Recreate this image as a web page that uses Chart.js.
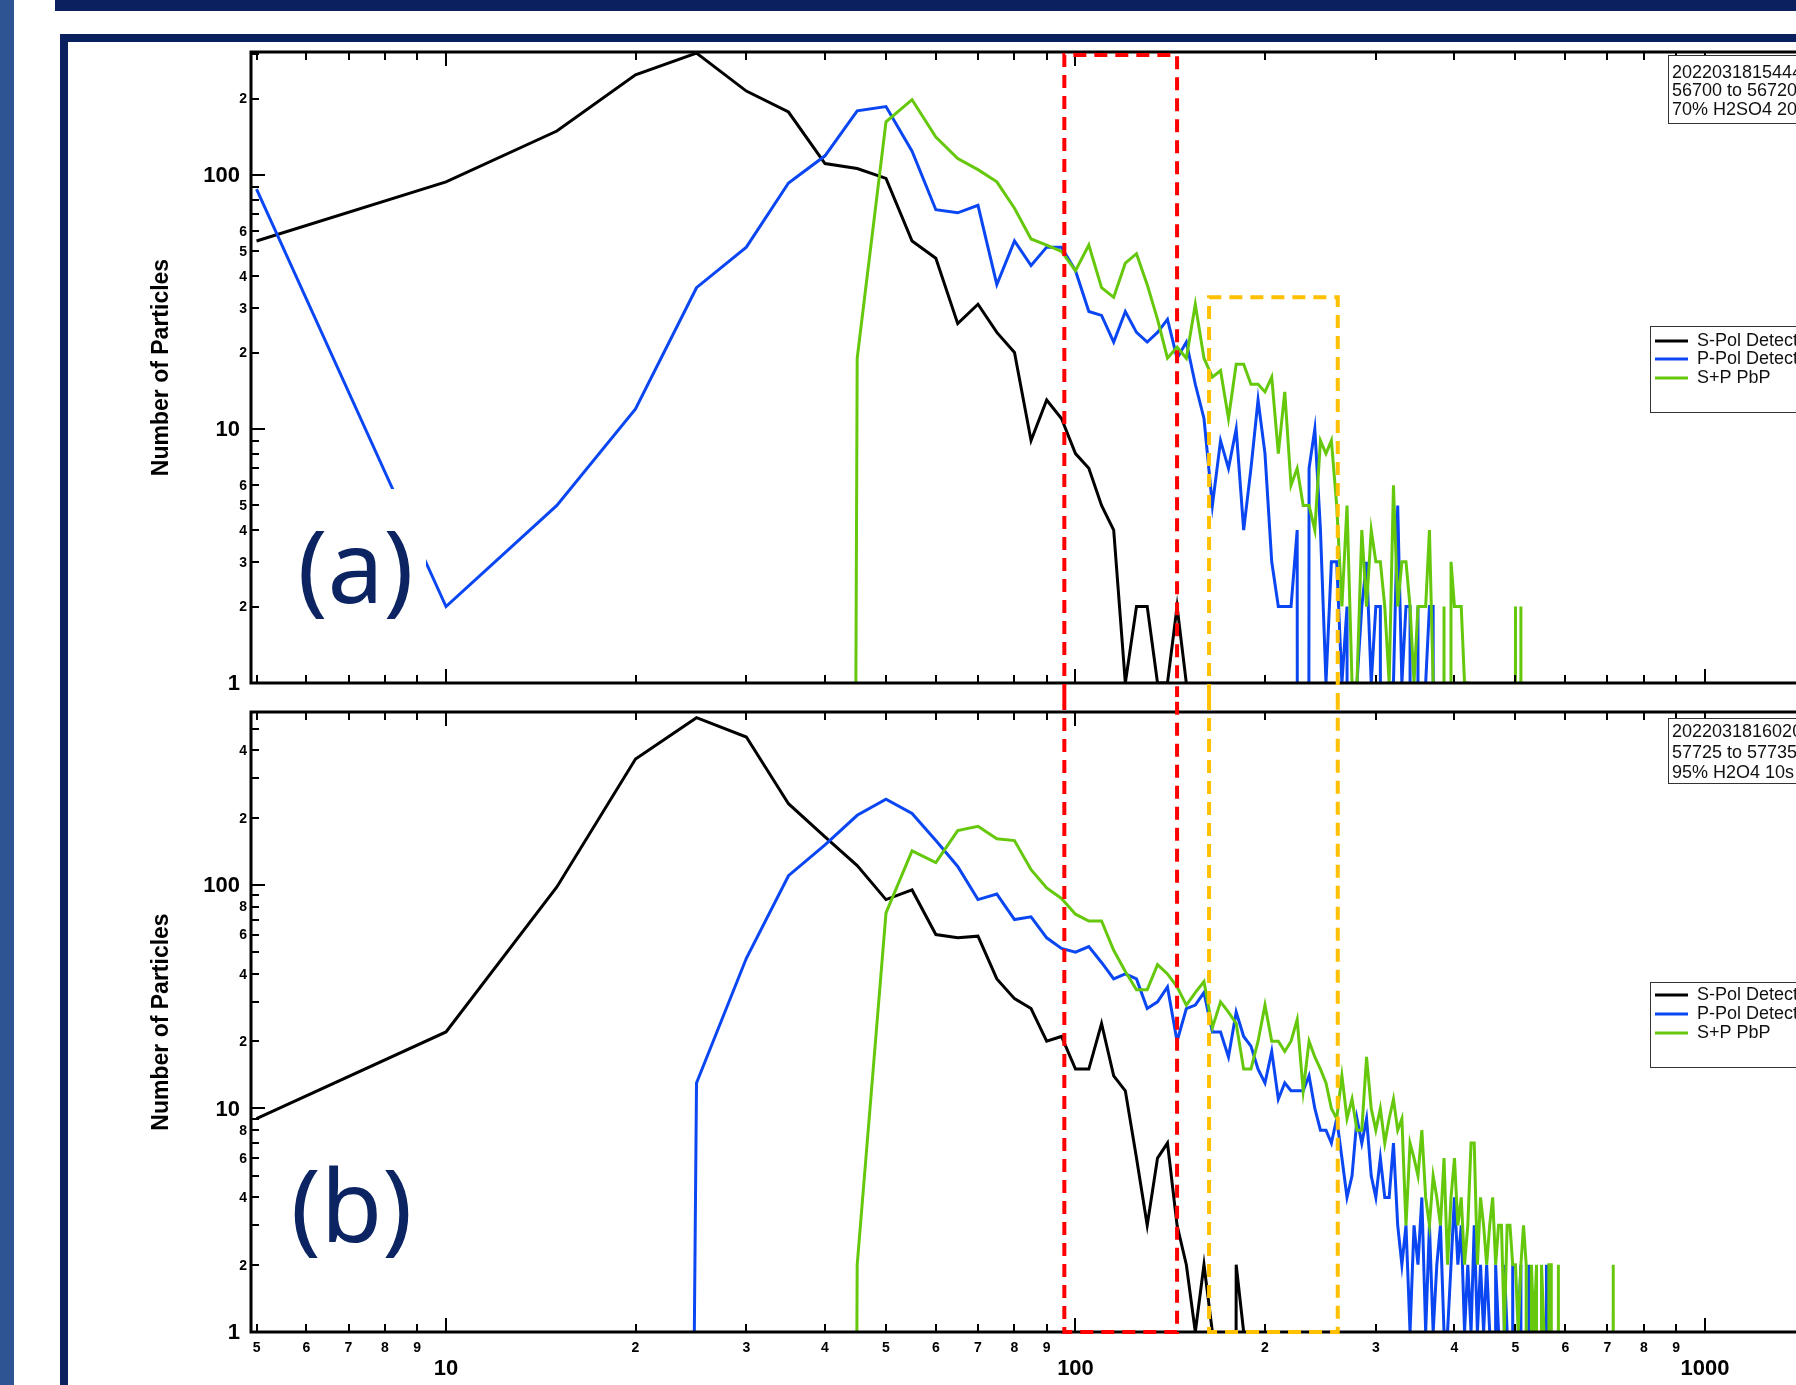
<!DOCTYPE html>
<html>
<head>
<meta charset="utf-8">
<script src="https://cdn.jsdelivr.net/npm/chart.js@4.4.0/dist/chart.umd.min.js"></script>
<style>
html,body{margin:0;padding:0;width:1796px;height:1385px;overflow:hidden;background:#fff;position:relative;}
#strip{position:absolute;left:0;top:0;width:14px;height:1385px;background:#2e5494;}
#topbar{position:absolute;left:55px;top:0;width:1741px;height:11px;background:#0b205e;}
#frame{position:absolute;left:60px;top:34px;width:2200px;height:2000px;border:8px solid #0b205e;box-sizing:border-box;}
.wrap{position:absolute;left:0;width:2100px;}
#w1{top:0;height:697px;}
#w2{top:697px;height:688px;}
canvas{display:block;}
.tag{position:absolute;background:#fff;color:#0c2462;font-family:'Noto Sans',sans-serif;font-size:100px;line-height:150px;height:150px;width:141px;text-align:center;z-index:5;}
#ta{left:285px;top:489px;}
#tb{left:281px;top:1128px;}
</style>
</head>
<body>
<div id="strip"></div>
<div id="topbar"></div>
<div id="frame"></div>
<div class="wrap" id="w1"><canvas id="c1" width="2100" height="697"></canvas></div>
<div class="wrap" id="w2"><canvas id="c2" width="2100" height="688"></canvas></div>
<div class="tag" id="ta">(a)</div>
<div class="tag" id="tb">(b)</div>
<script>
// ---------- data ----------
const sizes = [
  5,10,15,20,25,30,35,40,45,50,
  55,60,65,70,75,80,85,90,95,100,
  105,110,115,120,125,130,135,140,145,150,
  155,160,165,170,175,180,185,190,195,200,
  205,210,215,220,225,230,235,240,245,250,
  255,260,265,270,275,280,285,290,295,300,
  305,310,315,320,325,330,335,340,345,350,
  355,360,365,370,375,380,385,390,395,400,
  405,410,415,420,425,430,435,440,445,450,
  455,460,465,470,475,480,485,490,495,500,
  505,510,515,520,525,530,535,540,545,550,
  555,560,565,570,575,580,585,590,595,600,
  605,610,615,620,625,630,635,640,645,650,
  655,660,665,670,675,680,685,690,695,700,
  705,710,715,720
];

// panel (a)
const sPolTop = [
  55,94,149,248,302,214,177,111,106,97,
  55,47,26,31,24,20,9,13,11,8,
  7,5,4,1,2,2,1,1,2,1,
  0,0,0,0,0,0,0,0,0,0,
  0,0,0,0,0,0,0,0,0,0,
  0,0,0,0,0,0,0,0,0,0,
  0,0,0,0,0,0,0,0,0,0,
  0,0,0,0,0,0,0,0,0,0,
  0,0,0,0,0,0,0,0,0,0,
  0,0,0,0,0,0,0,0,0,0,
  0,0,0,0,0,0,0,0,0,0,
  0,0,0,0,0,0,0,0,0,0,
  0,0,0,0,0,0,0,0,0,0,
  0,0,0,0,0,0,0,0,0,0,
  0,0,0,0
];
const pPolTop = [
  88,2,5,12,36,52,93,119,179,186,
  124,73,71,76,37,55,44,52,52,42,
  29,28,22,29,24,22,24,27,19,22,
  15,11,5,9,7,10,4,7,13,8,
  3,2,2,2,4,0,7,10,4,1,
  3,3,1,2,0,1,2,3,1,2,
  2,0,1,1,5,1,2,2,0,2,
  0,1,2,2,0,0,0,1,0,0,
  0,0,1,0,0,0,0,0,0,0,
  0,0,0,0,0,0,0,0,0,0,
  0,0,0,0,0,0,0,0,0,0,
  0,0,0,0,0,0,0,0,0,0,
  0,0,0,0,0,0,0,0,0,0,
  0,0,0,0,0,0,0,0,0,0,
  0,0,0,0
];
const sumTop = [
  0,0,0,0,0,0,0,0,19,162,
  198,141,116,105,94,74,56,53,50,42,
  53,36,33,45,49,37,27,19,21,19,
  31,19,16,17,11,18,18,15,15,14,
  16,8,14,6,7,5,5,4,9,8,
  9,5,2,5,1,1,4,2,4,3,
  3,2,1,6,2,3,3,2,1,2,
  2,2,4,1,0,0,2,0,3,2,
  2,2,1,1,0,0,0,1,0,0,
  0,0,0,0,0,0,0,0,0,2,
  0,2,0,0,0,0,0,0,0,0,
  0,0,0,0,0,0,0,0,0,0,
  0,0,0,0,0,0,0,0,0,0,
  0,0,0,0,0,0,0,0,0,0,
  0,0,0,0
];

// panel (b)
const sPolBottom = [
  9,22,98,366,560,459,231,164,122,86,
  95,60,58,59,38,31,28,20,21,15,
  15,24,14,12,6,3,6,7,3,2,
  1,2,1,0,0,2,1,0,0,0,
  0,0,0,0,0,0,0,0,0,0,
  0,0,0,0,0,0,0,0,0,0,
  0,0,0,0,0,0,0,0,0,0,
  0,0,0,0,0,0,0,0,0,0,
  0,0,0,0,0,0,0,0,0,0,
  0,0,0,0,0,0,0,0,0,0,
  0,0,0,0,0,0,0,0,0,0,
  0,0,0,0,0,0,0,0,0,0,
  0,0,0,0,0,0,0,0,0,0,
  0,0,0,0,0,0,0,0,0,0,
  0,0,0,0
];
const pPolBottom = [
  0,0,0,0,13,47,110,151,205,242,
  209,158,121,86,91,70,72,58,52,50,
  53,45,38,40,38,28,30,35,20,28,
  29,33,22,22,17,27,21,19,15,13,
  18,11,13,12,12,12,14,10,8,8,
  7,9,6,4,5,9,7,9,5,4,
  6,4,4,7,3,2,3,1,3,2,
  4,1,3,1,2,3,1,1,2,4,
  2,3,1,2,1,3,1,2,1,2,
  1,0,2,1,0,2,1,0,2,0,
  1,2,0,0,2,0,0,1,0,0,
  0,2,0,0,0,0,0,0,0,0,
  0,0,0,0,0,0,0,0,0,0,
  0,0,0,0,0,0,0,0,0,0,
  0,0,0,0
];
const sumBottom = [
  0,0,0,0,0,0,0,0,2,75,
  142,126,175,183,161,158,117,97,87,74,
  69,69,51,41,34,34,44,40,35,29,
  33,37,23,30,27,24,15,15,20,29,
  20,20,18,20,25,12,20,17,15,13,
  10,9,14,9,11,8,8,17,10,8,
  10,7,9,11,8,9,3,7,6,5,
  8,4,3,5,4,3,6,2,4,6,
  3,4,2,3,7,7,2,4,3,2,
  3,4,2,3,3,1,3,3,2,2,
  1,2,3,2,0,2,1,2,0,2,
  1,0,2,2,0,0,2,0,0,1,
  0,0,0,0,0,0,0,0,0,0,
  0,0,0,0,0,0,0,0,0,0,
  0,0,2,0
];

const seriesNames = ['S-Pol Detector', 'P-Pol Detector', 'S+P PbP'];
const seriesColors = ['#000000', '#0a46f2', '#66c80c'];

const xTicks = [5,6,7,8,9,10,20,30,40,50,60,70,80,90,100,200,300,400,500,600,700,800,900,1000,2000,3000];
const xMajor = [10,100,1000];
const xLabelled = [5,6,7,8,9,10,20,30,40,50,60,70,80,90,100,200,300,400,500,600,700,800,900,1000];

const yTicksTop = [1,2,3,4,5,6,7,8,9,10,20,30,40,50,60,70,80,90,100,200,300];
const yLabelsTop = [1,2,3,4,5,6,10,20,30,40,50,60,100,200];
const yTicksBottom = [1,2,3,4,5,6,7,8,9,10,20,30,40,50,60,70,80,90,100,200,300,400,500];
const yLabelsBottom = [1,2,4,6,8,10,20,40,60,80,100,200,400];
const yMajor = [1,10,100];

const infoTop = ['20220318154444', '56700 to 56720', '70% H2SO4 20s'];
const infoBottom = ['20220318160200', '57725 to 57735', '95% H2O4 10s'];

// dashed highlight boxes (particle size ranges); "top" = upper value in panel (a), null = frame
const highlightBoxes = [
  {from: 96, to: 145, top: null, color: '#ff0000'},
  {from: 163, to: 261, top: 33, color: '#ffc000'}
];

// ---------- drawing ----------
const FONT = "'Liberation Sans', Arial, sans-serif";
const ZERO_ON_LOG = 1e-30; // a zero count drops straight down on a log axis

function tickText(v, major) {
  if (major) return String(v);
  const p = Math.pow(10, Math.floor(Math.log10(v)));
  return String(Math.round(v / p));
}

const decoPlugin = {
  id: 'deco',
  afterDraw(chart, args, o) {
    const ctx = chart.ctx, a = chart.chartArea, xs = chart.scales.x, ys = chart.scales.y;
    ctx.save();
    ctx.setLineDash([]);
    // tick marks (inward)
    ctx.strokeStyle = '#000';
    ctx.lineWidth = 2;
    ctx.beginPath();
    xTicks.forEach(v => {
      const px = Math.round(xs.getPixelForValue(v));
      if (px < a.left + 2 || px > a.right) return;
      const len = xMajor.includes(v) ? 14 : 8;
      ctx.moveTo(px, a.bottom); ctx.lineTo(px, a.bottom - len);
      ctx.moveTo(px, a.top); ctx.lineTo(px, a.top + len);
    });
    o.yTicks.forEach(v => {
      const py = Math.round(ys.getPixelForValue(v));
      if (py < a.top + 2 || py > a.bottom + 0.5) return;
      const len = yMajor.includes(v) ? 14 : 8;
      ctx.moveTo(a.left, py); ctx.lineTo(a.left + len, py);
    });
    ctx.stroke();
    // axis frame
    ctx.lineWidth = 3;
    ctx.lineJoin = 'miter';
    ctx.beginPath();
    ctx.moveTo(a.right, a.top); ctx.lineTo(a.left, a.top);
    ctx.lineTo(a.left, a.bottom); ctx.lineTo(a.right, a.bottom);
    ctx.stroke();
    // y labels
    ctx.fillStyle = '#000';
    ctx.textBaseline = 'middle';
    ctx.textAlign = 'right';
    o.yLabels.forEach(v => {
      const major = yMajor.includes(v);
      const py = ys.getPixelForValue(v);
      ctx.font = major ? 'bold 22px ' + FONT : 'bold 14px ' + FONT;
      ctx.fillText(tickText(v, major), a.left - (major ? 11 : 4), py + 1);
    });
    // x labels
    if (o.xLabels) {
      ctx.textAlign = 'center';
      xLabelled.forEach(v => {
        const major = xMajor.includes(v);
        const px = xs.getPixelForValue(v);
        ctx.font = major ? 'bold 22px ' + FONT : 'bold 14px ' + FONT;
        ctx.fillText(tickText(v, major), px, a.bottom + (major ? 37 : 16));
      });
    }
    // dashed boxes
    ctx.lineWidth = 4;
    ctx.lineJoin = 'miter';
    highlightBoxes.forEach(b => {
      const x0 = xs.getPixelForValue(b.from), x1 = xs.getPixelForValue(b.to);
      ctx.strokeStyle = b.color;
      ctx.setLineDash([13, 8]);
      ctx.beginPath();
      if (o.part === 'top') {
        const yt = b.top == null ? a.top + 3 : ys.getPixelForValue(b.top);
        ctx.moveTo(x0, chart.height); ctx.lineTo(x0, yt); ctx.lineTo(x1, yt); ctx.lineTo(x1, chart.height);
      } else {
        const yb = ys.getPixelForValue(1);
        ctx.moveTo(x0, 0); ctx.lineTo(x0, yb); ctx.lineTo(x1, yb); ctx.lineTo(x1, 0);
      }
      ctx.stroke();
    });
    ctx.setLineDash([]);
    // info box
    const I = o.info;
    ctx.fillStyle = '#fff';
    ctx.fillRect(I.x, I.y, I.w, I.h);
    ctx.strokeStyle = '#333';
    ctx.lineWidth = 1;
    ctx.strokeRect(I.x + 0.5, I.y + 0.5, I.w, I.h);
    ctx.fillStyle = '#111';
    ctx.textAlign = 'left';
    ctx.font = '18px ' + FONT;
    I.lines.forEach((t, i) => ctx.fillText(t, I.x + 4, I.y + I.rows[i]));
    // legend
    const L = o.legend;
    ctx.fillStyle = '#fff';
    ctx.fillRect(L.x, L.y, L.w, L.h);
    ctx.strokeStyle = '#333';
    ctx.strokeRect(L.x + 0.5, L.y + 0.5, L.w, L.h);
    chart.data.datasets.forEach((d, i) => {
      const yy = L.y + L.rows[i];
      ctx.strokeStyle = d.borderColor;
      ctx.lineWidth = 3;
      ctx.beginPath(); ctx.moveTo(L.x + 5, yy); ctx.lineTo(L.x + 38, yy); ctx.stroke();
      ctx.fillStyle = '#111';
      ctx.font = '18px ' + FONT;
      ctx.fillText(d.label, L.x + 47, yy);
    });
    ctx.restore();
  }
};

function buildChart(id, part, series, yMax, yTicks, yLabels, padding, deco) {
  const datasets = series.map((vals, i) => ({
    label: seriesNames[i],
    data: sizes.map((s, k) => ({x: s, y: vals[k] === 0 ? ZERO_ON_LOG : vals[k]})),
    borderColor: seriesColors[i],
    backgroundColor: seriesColors[i],
    borderWidth: 3,
    pointRadius: 0,
    tension: 0,
    fill: false,
    order: 2 - i
  }));
  return new Chart(document.getElementById(id), {
    type: 'line',
    data: {datasets},
    options: {
      responsive: false,
      animation: false,
      events: [],
      layout: {padding},
      plugins: {
        legend: {display: false},
        tooltip: {enabled: false},
        deco: Object.assign({part, yTicks, yLabels}, deco)
      },
      scales: {
        x: {type: 'logarithmic', min: 4.9, max: 3000, display: false},
        y: {
          type: 'logarithmic', min: 1, max: yMax,
          grid: {display: false, drawTicks: false},
          border: {display: false},
          ticks: {display: false},
          title: {display: true, text: 'Number of Particles', color: '#000', padding: 0,
                  font: {family: FONT, size: 23, weight: 'bold', lineHeight: 1.2}},
          afterFit(scale) { scale.width = 103; }
        }
      }
    },
    plugins: [decoPlugin]
  });
}

buildChart('c1', 'top', [sPolTop, pPolTop, sumTop], 305, yTicksTop, yLabelsTop,
  {left: 148, top: 52, right: 94.7, bottom: 14},
  {xLabels: false,
   info: {x: 1668, y: 55, w: 240, h: 68, rows: [18, 36, 55], lines: infoTop},
   legend: {x: 1650, y: 326, w: 240, h: 86, rows: [15, 33, 52]}});

buildChart('c2', 'bottom', [sPolBottom, pPolBottom, sumBottom], 594, yTicksBottom, yLabelsBottom,
  {left: 148, top: 15, right: 94.7, bottom: 53},
  {xLabels: true,
   info: {x: 1668, y: 21, w: 240, h: 65, rows: [14, 35, 55], lines: infoBottom},
   legend: {x: 1650, y: 285, w: 240, h: 85, rows: [13, 32, 51]}});
</script>
</body>
</html>
